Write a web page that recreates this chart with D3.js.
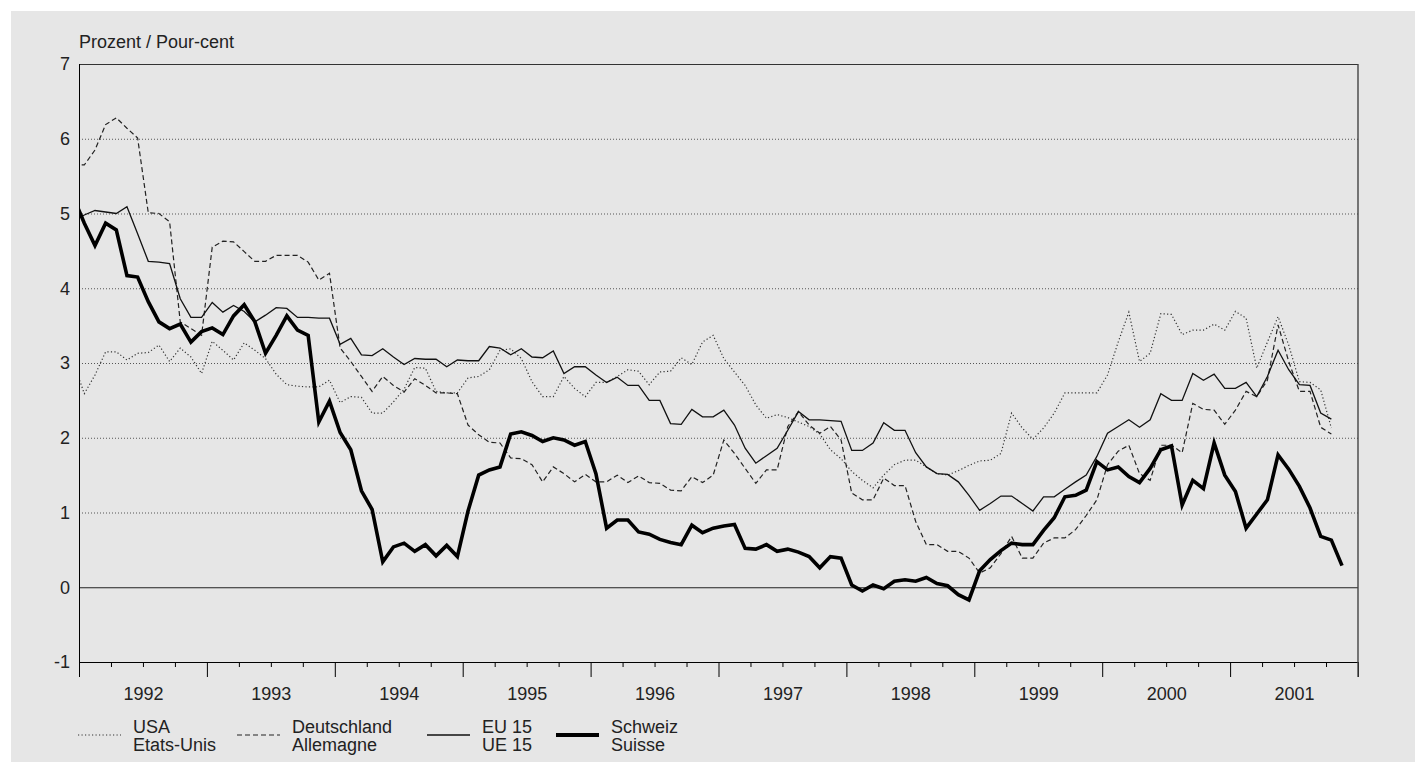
<!DOCTYPE html>
<html>
<head>
<meta charset="utf-8">
<script src="https://cdn.jsdelivr.net/npm/d3@7"></script>
<style>
  html, body { margin: 0; padding: 0; background: #ffffff; }
  svg { display: block; }
  text { font-family: "Liberation Sans", Arial, sans-serif; fill: #222; }
</style>
</head>
<body>
<svg id="chart" width="1415" height="762"></svg>
<script>
// ---- DATA (monthly, first value = Dec 1991, then Jan 1992 onwards) ----
const years = ["1992","1993","1994","1995","1996","1997","1998","1999","2000","2001"];
const yTicks = [-1, 0, 1, 2, 3, 4, 5, 6, 7];
const yTickLabels = ["-1", "0", "1", "2", "3", "4", "5", "6", "7"];
const yLabel = "Prozent / Pour-cent";

const usa = [2.99,
  2.59, 2.84, 3.15, 3.15, 3.04, 3.13, 3.14, 3.24, 3.02, 3.20, 3.08, 2.86,
  3.29, 3.17, 3.04, 3.27, 3.17, 3.06, 2.85, 2.71, 2.69, 2.68, 2.68, 2.77,
  2.47, 2.55, 2.54, 2.33, 2.33, 2.48, 2.65, 2.94, 2.93, 2.62, 2.60, 2.60,
  2.80, 2.82, 2.91, 3.17, 3.19, 3.06, 2.75, 2.55, 2.55, 2.82, 2.66, 2.55,
  2.74, 2.74, 2.82, 2.91, 2.89, 2.71, 2.88, 2.89, 3.07, 2.98, 3.28, 3.37,
  3.06, 2.88, 2.70, 2.44, 2.26, 2.31, 2.27, 2.21, 2.15, 2.05, 1.84, 1.72,
  1.55, 1.43, 1.33, 1.50, 1.64, 1.70, 1.70, 1.61, 1.52, 1.50, 1.56, 1.63,
  1.69, 1.70, 1.79, 2.33, 2.13, 1.98, 2.13, 2.33, 2.60, 2.60, 2.60, 2.60,
  2.84, 3.28, 3.68, 3.02, 3.13, 3.66, 3.65, 3.38, 3.44, 3.44, 3.52, 3.44,
  3.69, 3.60, 2.93, 3.28, 3.62, 3.24, 2.75, 2.74, 2.64, 2.13];

const deutschland = [5.65,
  5.65, 5.85, 6.19, 6.28, 6.14, 6.01, 5.01, 5.00, 4.89, 3.55, 3.46, 3.37,
  4.55, 4.63, 4.62, 4.49, 4.36, 4.36, 4.44, 4.44, 4.44, 4.35, 4.11, 4.20,
  3.20, 3.02, 2.82, 2.62, 2.82, 2.70, 2.61, 2.79, 2.70, 2.60, 2.60, 2.59,
  2.17, 2.04, 1.94, 1.93, 1.73, 1.72, 1.64, 1.41, 1.61, 1.52, 1.41, 1.51,
  1.41, 1.41, 1.50, 1.40, 1.49, 1.40, 1.39, 1.30, 1.29, 1.48, 1.40, 1.50,
  1.97, 1.79, 1.59, 1.39, 1.57, 1.57, 2.15, 2.35, 2.17, 2.06, 2.15, 1.97,
  1.26, 1.17, 1.17, 1.46, 1.36, 1.36, 0.88, 0.57, 0.57, 0.48, 0.48, 0.39,
  0.19, 0.26, 0.45, 0.68, 0.39, 0.39, 0.59, 0.66, 0.66, 0.77, 0.96, 1.17,
  1.64, 1.82, 1.90, 1.52, 1.43, 1.90, 1.90, 1.80, 2.46, 2.38, 2.37, 2.18,
  2.37, 2.62, 2.55, 2.77, 3.51, 3.02, 2.62, 2.62, 2.14, 2.05];

const eu15 = [4.90,
  4.98, 5.04, 5.02, 5.00, 5.09, 4.73, 4.36, 4.35, 4.33, 3.86, 3.61, 3.61,
  3.81, 3.68, 3.77, 3.69, 3.55, 3.64, 3.74, 3.73, 3.61, 3.61, 3.60, 3.60,
  3.25, 3.33, 3.11, 3.10, 3.19, 3.08, 2.98, 3.06, 3.05, 3.05, 2.95, 3.04,
  3.03, 3.03, 3.22, 3.20, 3.11, 3.19, 3.08, 3.07, 3.16, 2.86, 2.95, 2.95,
  2.84, 2.74, 2.81, 2.70, 2.70, 2.50, 2.50, 2.19, 2.18, 2.38, 2.28, 2.28,
  2.37, 2.17, 1.86, 1.66, 1.76, 1.86, 2.10, 2.35, 2.24, 2.24, 2.23, 2.22,
  1.83, 1.83, 1.93, 2.20, 2.10, 2.10, 1.80, 1.61, 1.52, 1.51, 1.41, 1.23,
  1.03, 1.12, 1.22, 1.22, 1.12, 1.02, 1.21, 1.21, 1.31, 1.41, 1.50, 1.75,
  2.06, 2.15, 2.24, 2.14, 2.24, 2.59, 2.50, 2.50, 2.86, 2.77, 2.85, 2.66,
  2.66, 2.74, 2.55, 2.82, 3.17, 2.91, 2.71, 2.70, 2.33, 2.25];

const schweiz = [5.21,
  4.87, 4.57, 4.87, 4.78, 4.17, 4.15, 3.82, 3.55, 3.46, 3.52, 3.28, 3.42,
  3.47, 3.38, 3.63, 3.78, 3.55, 3.13, 3.37, 3.63, 3.44, 3.37, 2.21, 2.49,
  2.07, 1.84, 1.29, 1.04, 0.34, 0.54, 0.59, 0.48, 0.57, 0.42, 0.56, 0.41,
  1.02, 1.50, 1.57, 1.61, 2.05, 2.08, 2.03, 1.95, 2.00, 1.97, 1.90, 1.95,
  1.52, 0.79, 0.90, 0.90, 0.74, 0.71, 0.64, 0.60, 0.57, 0.83, 0.73, 0.79,
  0.82, 0.84, 0.52, 0.51, 0.57, 0.48, 0.51, 0.47, 0.41, 0.26, 0.41, 0.39,
  0.03, -0.05, 0.03, -0.02, 0.08, 0.10, 0.08, 0.13, 0.05, 0.02, -0.10, -0.17,
  0.22, 0.37, 0.49, 0.59, 0.57, 0.57, 0.76, 0.93, 1.21, 1.23, 1.30, 1.68,
  1.57, 1.61, 1.48, 1.40, 1.59, 1.84, 1.89, 1.10, 1.43, 1.32, 1.93, 1.50,
  1.28, 0.79, 0.98, 1.17, 1.77, 1.58, 1.35, 1.06, 0.68, 0.63, 0.29];

const seriesNames = [["USA", "Etats-Unis"], ["Deutschland", "Allemagne"], ["EU 15", "UE 15"], ["Schweiz", "Suisse"]];
const seriesData = [usa, deutschland, eu15, schweiz];

// ---- STYLE / LAYOUT ----
const styles = [
  { width: 1.2, dash: "1.2,2.3", color: "#333" },
  { width: 1.2, dash: "5,3", color: "#222" },
  { width: 1.3, dash: null, color: "#111" },
  { width: 3.6, dash: null, color: "#000" }
];
const W = 1415, H = 762;
const plot = { left: 79, right: 1358, top: 64, bottom: 662 };

const svg = d3.select("#chart");
svg.append("rect").attr("x", 11).attr("y", 11).attr("width", W - 11).attr("height", H - 11).attr("fill", "#e6e6e6");

const nMonths = years.length * 12;
const x = d3.scaleLinear().domain([0, nMonths]).range([plot.left, plot.right]);
const y = d3.scaleLinear().domain([-1, 7]).range([plot.bottom, plot.top]);

svg.append("defs").append("clipPath").attr("id", "clip")
  .append("rect").attr("x", plot.left).attr("y", plot.top)
  .attr("width", plot.right - plot.left).attr("height", plot.bottom - plot.top);

// gridlines
const grid = svg.append("g");
grid.selectAll("line.g").data(yTicks.filter(v => v > 0 && v < 7)).join("line")
  .attr("x1", plot.left).attr("x2", plot.right)
  .attr("y1", d => y(d) + 0.5).attr("y2", d => y(d) + 0.5)
  .attr("stroke", "#555").attr("stroke-width", 1).attr("stroke-dasharray", "1,2");
// zero line
grid.append("line").attr("x1", plot.left).attr("x2", plot.right)
  .attr("y1", y(0) + 0.5).attr("y2", y(0) + 0.5).attr("stroke", "#222").attr("stroke-width", 1);
// top border
grid.append("line").attr("x1", plot.left).attr("x2", plot.right)
  .attr("y1", y(7) + 0.5).attr("y2", y(7) + 0.5).attr("stroke", "#333").attr("stroke-width", 1);

// lines
const line = d3.line().x((d, i) => x(i - 1 + 0.5)).y(d => y(d));
const lines = svg.append("g").attr("clip-path", "url(#clip)");
seriesData.forEach((data, k) => {
  const st = styles[k];
  lines.append("path").datum(data)
    .attr("d", line)
    .attr("fill", "none")
    .attr("stroke", st.color)
    .attr("stroke-width", st.width)
    .attr("stroke-linejoin", "miter")
    .attr("stroke-dasharray", st.dash);
});

// axes
const majorTicks = d3.range(0, nMonths + 1, 12);
const minorTicks = d3.range(0, nMonths + 1, 3).filter(v => v % 12 !== 0);
const axisG = svg.append("g").attr("transform", `translate(0,${plot.bottom})`);
axisG.call(d3.axisBottom(x).tickValues(minorTicks).tickSize(5).tickFormat("").tickSizeOuter(0));
axisG.append("g").call(d3.axisBottom(x).tickValues(majorTicks).tickSize(15).tickFormat("").tickSizeOuter(0));
axisG.selectAll("path.domain").attr("stroke", "#000");
axisG.selectAll(".tick line").attr("stroke", "#000");

const labelG = svg.append("g").attr("transform", `translate(0,${plot.bottom})`);
labelG.call(d3.axisBottom(x).tickValues(years.map((d, i) => i * 12 + 6))
  .tickFormat((d, i) => years[i]).tickSize(0).tickPadding(25));
labelG.select("path.domain").remove();
labelG.selectAll("text").attr("font-size", 18).attr("fill", "#222")
  .style("font-family", '"Liberation Sans", Arial, sans-serif');

// left axis
const yAxisG = svg.append("g").attr("transform", `translate(${plot.left},0)`);
yAxisG.call(d3.axisLeft(y).tickValues(yTicks).tickSize(0).tickPadding(9)
  .tickFormat((d, i) => yTickLabels[i]));
yAxisG.select("path.domain").attr("stroke", "#000").attr("d", `M0.5,${plot.top}V${plot.bottom + 15}`);
yAxisG.selectAll("text").attr("font-size", 18).attr("fill", "#222")
  .style("font-family", '"Liberation Sans", Arial, sans-serif');

// right border
svg.append("line").attr("x1", plot.right).attr("x2", plot.right)
  .attr("y1", plot.top).attr("y2", plot.bottom + 15)
  .attr("stroke", "#444").attr("stroke-width", 1.4);

// unit label
svg.append("text").attr("x", plot.left).attr("y", 48).attr("font-size", 18).text(yLabel);

// legend
const legendX = [78, 237, 427, 556];
const leg = svg.append("g");
seriesNames.forEach((nm, k) => {
  const st = styles[k];
  const lx = legendX[k];
  leg.append("line").attr("x1", lx).attr("x2", lx + 43)
    .attr("y1", 735).attr("y2", 735)
    .attr("stroke", st.color).attr("stroke-width", st.width === 3.6 ? 4 : st.width)
    .attr("stroke-dasharray", st.dash);
  const t = leg.append("text").attr("x", lx + 55).attr("font-size", 18);
  t.append("tspan").attr("x", lx + 55).attr("y", 733).text(nm[0]);
  t.append("tspan").attr("x", lx + 55).attr("y", 751).text(nm[1]);
});
</script>
</body>
</html>
